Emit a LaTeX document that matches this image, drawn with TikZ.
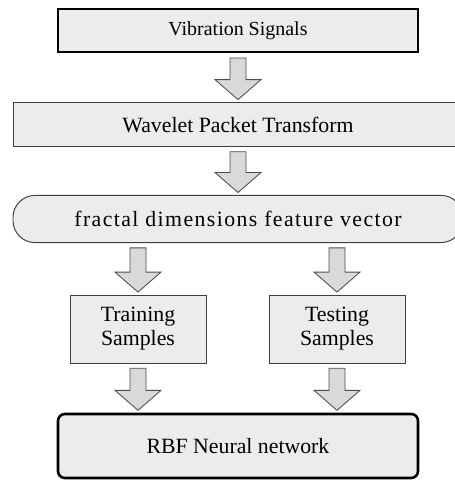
\documentclass[tikz,border=0pt]{standalone}
\usepackage{fontspec}
\setmainfont{Liberation Serif}
\newfontfamily\spacedserif[LetterSpace=6.5]{Liberation Serif}
\usepackage{xcolor}
\usepackage{tikz}
\usetikzlibrary{positioning,calc}

\definecolor{boxgray}{gray}{0.925}
\definecolor{arrowgray}{gray}{0.85}

% block arrow pointing down: #1 top of shaft, #2 tip
\newcommand{\downblock}[2]{%
  \draw[blockarr] let \p1=(#1), \p2=(#2) in
    (\x1-0.2cm,\y1) -- (\x1+0.2cm,\y1) -- (\x1+0.2cm,\y2+0.5cm)
    -- (\x1+0.575cm,\y2+0.5cm) -- (\x1,\y2) -- (\x1-0.575cm,\y2+0.5cm)
    -- (\x1-0.2cm,\y2+0.5cm) -- cycle;}

\begin{document}
\begin{tikzpicture}[
  font=\fontsize{15.5}{17}\selectfont,
  thinbox/.style={draw=black!75, line width=0.7pt, fill=boxgray,
                  align=center, inner sep=2pt},
  thickbox/.style={draw=black, line width=1.8pt, fill=boxgray,
                   align=center, inner sep=2pt},
  blockarr/.style={draw=black!70, line width=0.6pt, fill=arrowgray}
]
\useasboundingbox (0,0) rectangle (11.375,12);

% Signal source
\node[thickbox, minimum width=9.0cm, minimum height=1.07cm,
      font=\fontsize{14.2}{16}\selectfont] (vib) at (5.95,11.2375)
  {Vibration Signals};

% Decomposition and features
\node[thinbox, minimum width=11.25cm, minimum height=1.1cm] (wpt) at (5.95,8.8875)
  {Wavelet Packet Transform};
\node[thinbox, rounded corners=0.55cm, minimum width=11.25cm,
      minimum height=1.18cm] (feat) at (5.95,6.525)
  {\spacedserif fractal dimensions feature vector};

% Sample sets
\node[thinbox, minimum width=3.4cm, minimum height=1.7cm] (train) at (3.45,3.775)
  {Training\\ Samples};
\node[thinbox, minimum width=3.4cm, minimum height=1.7cm] (test) at (8.425,3.775)
  {Testing\\ Samples};

% Classifier
\node[thickbox, rounded corners=0.17cm, minimum width=9.0cm,
      minimum height=1.6cm] (rbf) at (5.95,0.85)
  {RBF Neural network};

% Flow arrows
\downblock{$(vib.south)+(0,-0.12)$}{$(wpt.north)+(0,0.06)$}
\downblock{$(wpt.south)+(0,-0.12)$}{$(feat.north)+(0,0.06)$}
\downblock{$(feat.south -| train)+(0,-0.12)$}{$(train.north)+(0,0.06)$}
\downblock{$(feat.south -| test)+(0,-0.12)$}{$(test.north)+(0,0.06)$}
\downblock{$(train.south)+(0,-0.12)$}{$(rbf.north -| train)+(0,0.06)$}
\downblock{$(test.south)+(0,-0.12)$}{$(rbf.north -| test)+(0,0.06)$}
\end{tikzpicture}
\end{document}
